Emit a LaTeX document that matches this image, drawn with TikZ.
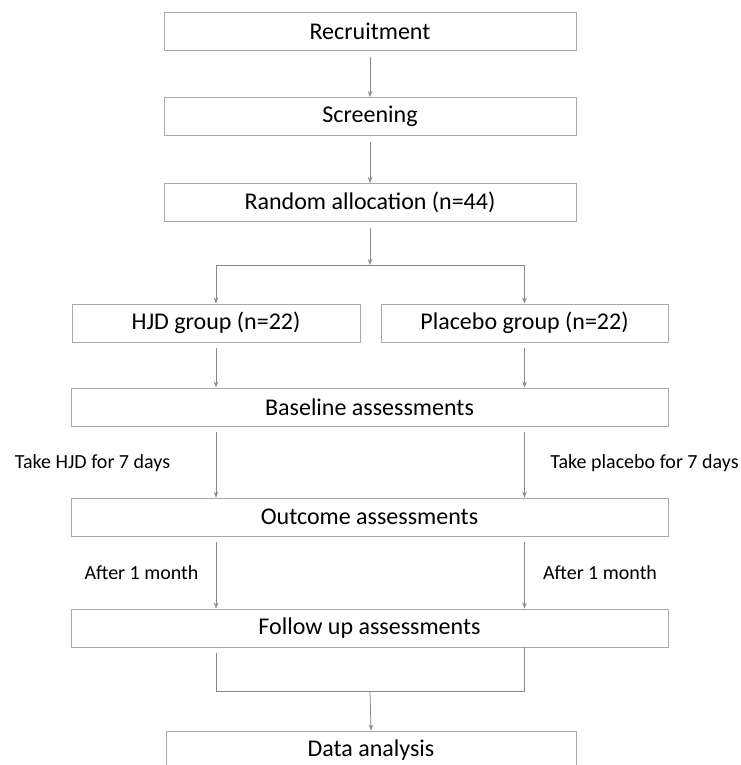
\documentclass[tikz,border=0pt]{standalone}
\usepackage{fontspec}
\setmainfont{Carlito}
\usetikzlibrary{arrows.meta}
\definecolor{boxgray}{HTML}{A8A8A8}
\definecolor{linegray}{HTML}{8A8A8A}
\tikzset{
  box/.style={draw=boxgray, line width=0.9pt, fill=white, inner sep=0pt, minimum height=38pt, font=\fontsize{24}{28}\selectfont, text=black},
  arr/.style={draw=linegray, line width=0.8pt, -{Stealth[length=6pt,width=4.5pt]}},
  ln/.style={draw=linegray, line width=0.8pt},
  lbl/.style={inner sep=0pt, font=\fontsize{20}{24}\selectfont, text=black}
}
\begin{document}
\begin{tikzpicture}[x=1pt,y=-1pt]
\useasboundingbox (0,0) rectangle (740,765);
\fill[white] (0,0) rectangle (740,765);
\node[box, minimum width=412pt] (rec) at (370,31.5) {Recruitment};
\node[box, minimum width=412pt] (scr) at (370,116.5) {Screening};
\node[box, minimum width=412pt] (rnd) at (370,202.5) {Random allocation (n=44)};
\node[box, minimum width=288pt] (hjd) at (216,323) {HJD group (n=22)};
\node[box, minimum width=287pt] (plc) at (524.5,323) {Placebo group (n=22)};
\node[box, minimum width=597pt] (base) at (369.5,407) {Baseline assessments};
\node[box, minimum width=597pt] (out) at (369.5,517) {Outcome assessments};
\node[box, minimum width=597pt] (fol) at (369.5,628) {Follow up assessments};
\node[box, minimum width=410pt] (data) at (371,750) {Data analysis};
\coordinate (split) at (370,265);
\coordinate (merge) at (370,691);
\node[lbl] (l1) at (92.5,463) {Take HJD for 7 days};
\node[lbl] (l2) at (644.5,463) {Take placebo for 7 days};
\node[lbl] (l3) at (141.5,573) {After 1 month};
\node[lbl] (l4) at (600,573) {After 1 month};
\draw[arr, shorten <=6pt] (rec.south) -- (scr.north);
\draw[arr, shorten <=6pt] (scr.south) -- (rnd.north);
\draw[arr, shorten <=6pt] (rnd.south) -- (split);
\draw[ln] (split -| hjd.north) -- (split -| plc.north);
\draw[arr] (split -| hjd.north) -- (hjd.north);
\draw[arr] (split -| plc.north) -- (plc.north);
\draw[arr, shorten <=6pt] (hjd.south) -- (hjd.south |- base.north);
\draw[arr, shorten <=6pt] (plc.south) -- (plc.south |- base.north);
\draw[arr, shorten <=6pt] (base.south -| hjd.south) -- (out.north -| hjd.south);
\draw[arr, shorten <=6pt] (base.south -| plc.south) -- (out.north -| plc.south);
\draw[arr, shorten <=6pt] (out.south -| hjd.south) -- (fol.north -| hjd.south);
\draw[arr, shorten <=6pt] (out.south -| plc.south) -- (fol.north -| plc.south);
\draw[ln, shorten <=6pt] (fol.south -| hjd.south) -- (merge -| hjd.south) -- (merge -| plc.south) -- (fol.south -| plc.south);
\draw[arr, shorten <=1pt] (merge) -- (data.north);
\end{tikzpicture}
\end{document}
